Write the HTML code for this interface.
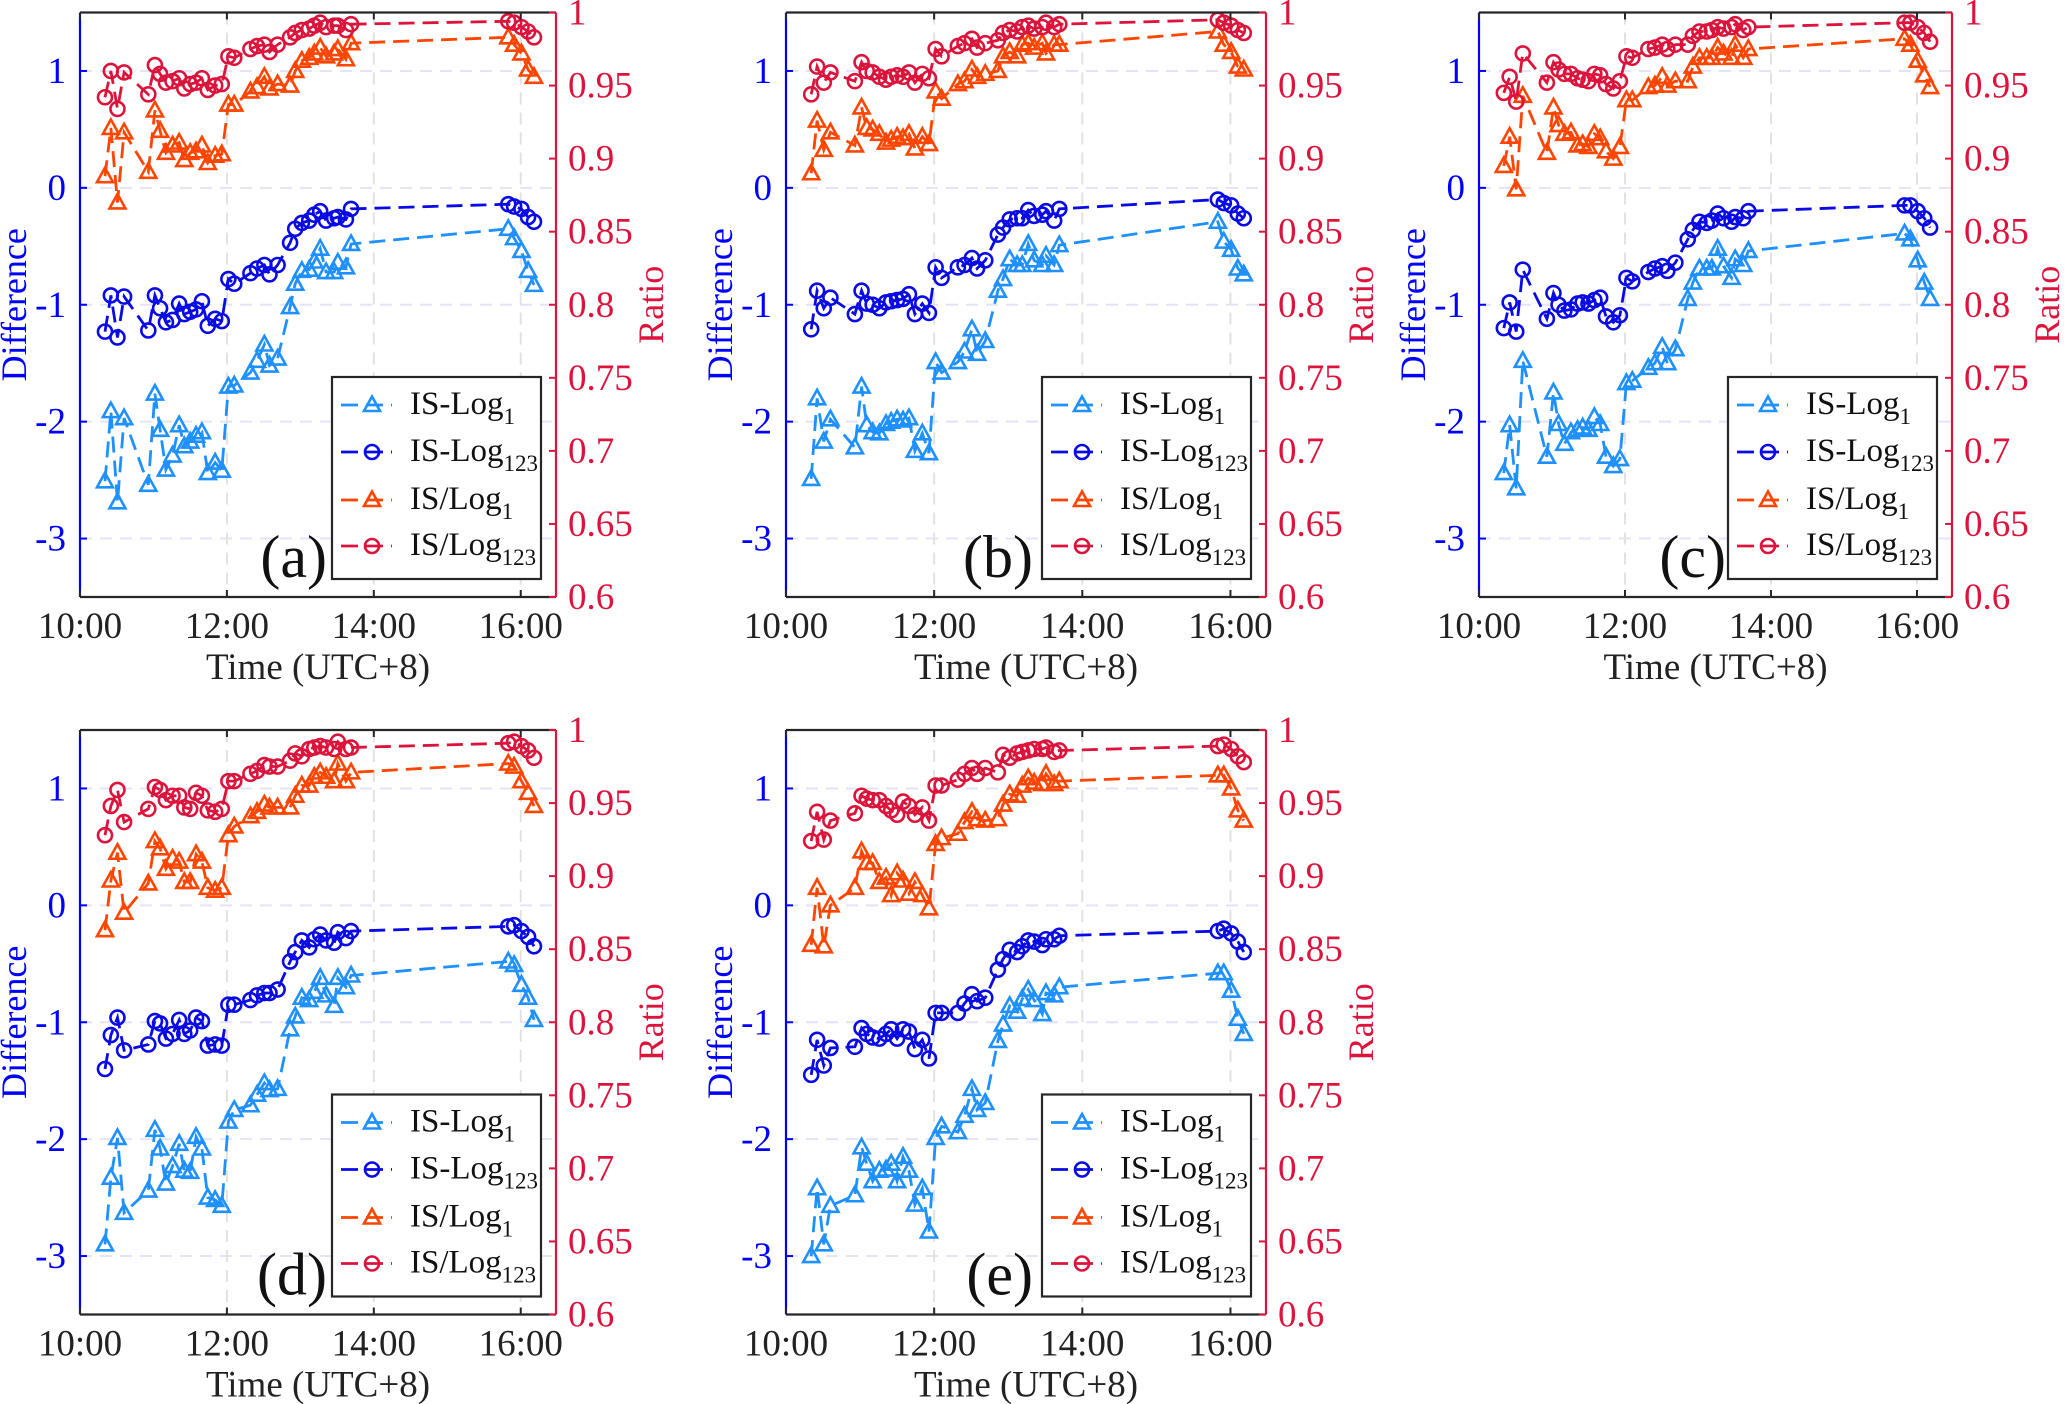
<!DOCTYPE html>
<html><head><meta charset="utf-8"><style>
html,body{margin:0;padding:0;background:#fff;}
svg{display:block;font-family:"Liberation Serif",serif;}
</style></head><body>
<svg id="fig" width="2067" height="1404" viewBox="0 0 2067 1404"></svg>
<script>
const times = [10.34,10.42,10.51,10.60,10.93,11.02,11.09,11.17,11.26,11.35,11.42,11.50,11.58,11.66,11.74,11.84,11.93,12.02,12.10,12.32,12.41,12.51,12.58,12.69,12.86,12.93,13.02,13.12,13.19,13.27,13.35,13.46,13.51,13.62,13.69,15.83,15.91,16.01,16.10,16.18];
const xTickLabels = ["10:00","12:00","14:00","16:00"];
const xTickValues = [10,12,14,16];
const leftTicks = [-3,-2,-1,0,1];
const rightTicks = [0.6,0.65,0.7,0.75,0.8,0.85,0.9,0.95,1];
const rightTickLabels = ["0.6","0.65","0.7","0.75","0.8","0.85","0.9","0.95","1"];

const isLog1A = [-2.51,-1.91,-2.69,-1.97,-2.54,-1.76,-2.07,-2.41,-2.29,-2.03,-2.21,-2.17,-2.12,-2.09,-2.44,-2.35,-2.42,-1.70,-1.69,-1.58,-1.48,-1.34,-1.52,-1.46,-1.02,-0.82,-0.71,-0.70,-0.63,-0.52,-0.72,-0.72,-0.64,-0.68,-0.48,-0.35,-0.43,-0.54,-0.71,-0.83];
const isLog123A = [-1.23,-0.92,-1.28,-0.93,-1.22,-0.92,-1.03,-1.15,-1.13,-0.99,-1.08,-1.06,-1.04,-0.97,-1.18,-1.12,-1.14,-0.78,-0.82,-0.73,-0.69,-0.66,-0.74,-0.66,-0.47,-0.35,-0.30,-0.28,-0.23,-0.20,-0.28,-0.26,-0.25,-0.27,-0.18,-0.14,-0.16,-0.18,-0.25,-0.29];
const ratio1A = [0.888,0.921,0.870,0.918,0.891,0.933,0.919,0.904,0.909,0.911,0.899,0.904,0.905,0.909,0.897,0.902,0.903,0.937,0.937,0.946,0.949,0.956,0.948,0.951,0.950,0.960,0.967,0.969,0.972,0.976,0.970,0.972,0.975,0.968,0.979,0.983,0.978,0.972,0.961,0.956];
const ratio123A = [0.942,0.960,0.934,0.959,0.944,0.964,0.958,0.952,0.953,0.955,0.948,0.951,0.952,0.955,0.947,0.950,0.951,0.970,0.969,0.975,0.977,0.978,0.973,0.978,0.983,0.986,0.988,0.989,0.991,0.993,0.990,0.991,0.991,0.988,0.992,0.994,0.993,0.990,0.987,0.983];

const isLog1B = [-2.49,-1.80,-2.17,-1.98,-2.22,-1.70,-2.03,-2.09,-2.10,-2.02,-2.00,-1.98,-1.99,-1.97,-2.25,-2.10,-2.27,-1.49,-1.58,-1.49,-1.40,-1.21,-1.42,-1.31,-0.88,-0.78,-0.61,-0.66,-0.66,-0.48,-0.62,-0.66,-0.58,-0.66,-0.49,-0.29,-0.46,-0.53,-0.69,-0.74];
const isLog123B = [-1.21,-0.88,-1.03,-0.94,-1.08,-0.88,-0.99,-1.00,-1.03,-0.98,-0.97,-0.96,-0.95,-0.91,-1.08,-0.99,-1.07,-0.68,-0.77,-0.68,-0.66,-0.60,-0.69,-0.62,-0.40,-0.34,-0.27,-0.26,-0.26,-0.19,-0.24,-0.23,-0.20,-0.28,-0.18,-0.10,-0.13,-0.15,-0.22,-0.26];
const ratio1B = [0.890,0.926,0.906,0.918,0.909,0.935,0.921,0.920,0.917,0.911,0.913,0.915,0.914,0.917,0.907,0.915,0.910,0.946,0.941,0.951,0.953,0.961,0.956,0.958,0.960,0.970,0.973,0.970,0.978,0.979,0.976,0.979,0.972,0.978,0.978,0.987,0.978,0.973,0.963,0.961];
const ratio123B = [0.944,0.963,0.952,0.959,0.953,0.966,0.960,0.959,0.956,0.954,0.956,0.957,0.956,0.959,0.952,0.958,0.955,0.975,0.970,0.977,0.979,0.982,0.976,0.979,0.981,0.986,0.988,0.987,0.990,0.991,0.989,0.990,0.993,0.990,0.992,0.995,0.993,0.991,0.988,0.986];

const isLog1C = [-2.44,-2.03,-2.57,-1.48,-2.30,-1.75,-2.02,-2.19,-2.09,-2.07,-2.05,-2.07,-1.96,-2.02,-2.30,-2.38,-2.32,-1.67,-1.65,-1.54,-1.50,-1.36,-1.50,-1.38,-0.95,-0.81,-0.69,-0.69,-0.69,-0.52,-0.67,-0.77,-0.61,-0.66,-0.54,-0.39,-0.44,-0.62,-0.81,-0.95];
const isLog123C = [-1.20,-0.98,-1.23,-0.70,-1.12,-0.90,-1.00,-1.05,-1.04,-0.99,-0.98,-0.99,-0.96,-0.94,-1.10,-1.15,-1.09,-0.77,-0.80,-0.72,-0.69,-0.67,-0.71,-0.64,-0.44,-0.36,-0.29,-0.30,-0.28,-0.22,-0.26,-0.29,-0.25,-0.26,-0.20,-0.15,-0.15,-0.20,-0.26,-0.34];
const ratio1C = [0.895,0.915,0.879,0.943,0.904,0.935,0.923,0.917,0.918,0.909,0.910,0.908,0.917,0.914,0.905,0.900,0.908,0.940,0.940,0.949,0.950,0.956,0.950,0.953,0.953,0.963,0.969,0.969,0.969,0.976,0.972,0.969,0.978,0.969,0.975,0.982,0.978,0.967,0.957,0.949];
const ratio123C = [0.945,0.956,0.939,0.972,0.952,0.966,0.961,0.958,0.958,0.955,0.954,0.953,0.958,0.957,0.951,0.948,0.953,0.970,0.969,0.975,0.976,0.978,0.975,0.978,0.978,0.984,0.987,0.987,0.988,0.990,0.989,0.990,0.992,0.988,0.990,0.993,0.993,0.990,0.986,0.980];

const isLog1D = [-2.90,-2.33,-1.99,-2.63,-2.44,-1.92,-2.08,-2.38,-2.23,-2.04,-2.27,-2.28,-1.98,-2.08,-2.50,-2.52,-2.57,-1.85,-1.75,-1.71,-1.62,-1.52,-1.58,-1.57,-1.06,-0.95,-0.79,-0.81,-0.74,-0.62,-0.77,-0.86,-0.62,-0.70,-0.60,-0.48,-0.51,-0.68,-0.79,-0.98];
const isLog123D = [-1.40,-1.11,-0.96,-1.24,-1.19,-0.99,-1.01,-1.14,-1.10,-0.98,-1.10,-1.07,-0.96,-0.99,-1.20,-1.19,-1.20,-0.85,-0.85,-0.81,-0.77,-0.75,-0.75,-0.72,-0.48,-0.40,-0.30,-0.36,-0.29,-0.25,-0.30,-0.32,-0.23,-0.28,-0.22,-0.18,-0.17,-0.22,-0.27,-0.35];
const ratio1D = [0.863,0.897,0.916,0.875,0.895,0.924,0.919,0.905,0.912,0.910,0.896,0.896,0.915,0.910,0.892,0.890,0.892,0.928,0.934,0.941,0.944,0.949,0.947,0.947,0.947,0.955,0.962,0.962,0.968,0.971,0.968,0.965,0.977,0.965,0.971,0.977,0.975,0.965,0.957,0.948];
const ratio123D = [0.928,0.948,0.959,0.937,0.946,0.961,0.959,0.952,0.955,0.955,0.947,0.946,0.957,0.955,0.945,0.944,0.946,0.965,0.965,0.970,0.972,0.976,0.975,0.975,0.979,0.984,0.982,0.987,0.988,0.989,0.988,0.987,0.992,0.987,0.988,0.991,0.992,0.989,0.986,0.981];

const isLog1E = [-3.00,-2.42,-2.90,-2.57,-2.48,-2.07,-2.21,-2.36,-2.27,-2.26,-2.21,-2.36,-2.15,-2.27,-2.56,-2.42,-2.79,-1.99,-1.89,-1.94,-1.80,-1.57,-1.75,-1.69,-1.16,-1.02,-0.86,-0.91,-0.80,-0.72,-0.81,-0.93,-0.75,-0.77,-0.70,-0.58,-0.58,-0.73,-0.97,-1.10];
const isLog123E = [-1.45,-1.15,-1.37,-1.22,-1.21,-1.05,-1.10,-1.13,-1.14,-1.10,-1.06,-1.14,-1.06,-1.08,-1.23,-1.15,-1.31,-0.92,-0.92,-0.92,-0.84,-0.76,-0.82,-0.79,-0.55,-0.46,-0.38,-0.40,-0.35,-0.30,-0.31,-0.34,-0.29,-0.29,-0.26,-0.22,-0.20,-0.24,-0.31,-0.40];
const ratio1E = [0.853,0.892,0.852,0.880,0.892,0.917,0.909,0.909,0.896,0.899,0.887,0.902,0.897,0.888,0.896,0.887,0.878,0.922,0.926,0.929,0.937,0.944,0.939,0.938,0.939,0.949,0.956,0.955,0.962,0.967,0.964,0.963,0.970,0.963,0.965,0.969,0.969,0.960,0.945,0.938];
const ratio123E = [0.924,0.944,0.925,0.938,0.943,0.955,0.953,0.952,0.952,0.948,0.945,0.942,0.951,0.948,0.942,0.947,0.938,0.962,0.962,0.966,0.970,0.974,0.970,0.974,0.971,0.983,0.981,0.984,0.985,0.986,0.987,0.987,0.988,0.985,0.986,0.989,0.990,0.987,0.982,0.978];

const panelLabels = ["(a)","(b)","(c)","(d)","(e)"];
const panelSeries = [
  [isLog1A,isLog123A,ratio1A,ratio123A],
  [isLog1B,isLog123B,ratio1B,ratio123B],
  [isLog1C,isLog123C,ratio1C,ratio123C],
  [isLog1D,isLog123D,ratio1D,ratio123D],
  [isLog1E,isLog123E,ratio1E,ratio123E]
];
const seriesNames = ["IS-Log","IS-Log","IS/Log","IS/Log"];
const seriesSubs = ["1","123","1","123"];

const NS = "http://www.w3.org/2000/svg";
const fig = document.getElementById("fig");
const boxes = [[80,12.5,476],[786,12.5,480],[1479,12.5,473],[80,730,476],[786,730,480]];
const H = 584.5;
const colors = ["#1E90FF","#0A0AE6","#FF4500","#DC143C"];
const markers = ["tri","circ","tri","circ"];
const BLUE = "#0000FF", RED = "#DC143C";

function mk(parent, tag, attrs) {
  const e = document.createElementNS(NS, tag);
  for (const k in attrs) e.setAttribute(k, attrs[k]);
  parent.appendChild(e);
  return e;
}
function markerEl(g, type, x, y, col) {
  let e;
  if (type === "tri") {
    e = mk(g, "polygon", {points: `${x},${y-8.5} ${x-8},${y+6} ${x+8},${y+6}`, fill: "none", stroke: col, "stroke-width": 2.6});
  } else {
    e = mk(g, "circle", {cx: x, cy: y, r: 7, fill: "none", stroke: col, "stroke-width": 2.6});
  }
  return e;
}

boxes.forEach((b, pi) => {
  const [L, T, W] = b;
  const R = L + W, B = T + H;
  const xs = t => L + (t - 10) / 6.48 * W;
  const yl = v => T + (1.5 - v) / 5 * H;
  const yr = v => T + (1 - v) / 0.4 * H;

  const g = mk(fig, "g", {});
  
  

  const grid = mk(g, "g", {});
  
  
  leftTicks.forEach(v => {
    const gl = mk(grid, "line", {x1: L, x2: R, y1: yl(v), y2: yl(v), stroke: "#E4E4F6", "stroke-width": 2, "stroke-dasharray": "12,8"});
    
    
  });
  xTickValues.slice(1).forEach(v => {
    const gl = mk(grid, "line", {x1: xs(v), x2: xs(v), y1: T, y2: B, stroke: "#E2E2E2", "stroke-width": 2, "stroke-dasharray": "12,8"});
    
    
  });

  panelSeries[pi].forEach((arr, si) => {
    const yf = si < 2 ? yl : yr;
    const sg = mk(g, "g", {});
    
    
    const pts = arr.map((v, i) => `${xs(times[i]).toFixed(1)},${yf(v).toFixed(1)}`).join(" ");
    const pl = mk(sg, "polyline", {points: pts, fill: "none", stroke: colors[si], "stroke-width": 2.8, "stroke-dasharray": "16,8"});
    
    
    arr.forEach((v, i) => {
      const m = markerEl(sg, markers[si], xs(times[i]), yf(v), colors[si]);
      
      
    });
  });

  const ax = mk(g, "g", {});
  
  
  mk(ax, "line", {x1: L, x2: R, y1: T, y2: T, stroke: "#262626", "stroke-width": 2.2});
  mk(ax, "line", {x1: L, x2: R, y1: B, y2: B, stroke: "#262626", "stroke-width": 2.2});
  const la = mk(ax, "line", {x1: L, x2: L, y1: T, y2: B, stroke: BLUE, "stroke-width": 2.2});
  
  
  const ra = mk(ax, "line", {x1: R, x2: R, y1: T, y2: B, stroke: RED, "stroke-width": 2.2});
  
  

  xTickValues.forEach((v, i) => {
    const x = xs(v);
    mk(ax, "line", {x1: x, x2: x, y1: B, y2: B - 7, stroke: "#262626", "stroke-width": 2});
    mk(ax, "line", {x1: x, x2: x, y1: T, y2: T + 7, stroke: "#262626", "stroke-width": 2});
    const t = mk(ax, "text", {x: x, y: B + 41, "text-anchor": "middle", "font-size": 37, fill: "#222"});
    t.textContent = xTickLabels[i];
    
    
  });
  leftTicks.forEach(v => {
    mk(ax, "line", {x1: L, x2: L + 7, y1: yl(v), y2: yl(v), stroke: BLUE, "stroke-width": 2});
    const t = mk(ax, "text", {x: L - 14, y: yl(v) + 12, "text-anchor": "end", "font-size": 37, fill: BLUE});
    t.textContent = v;
    
    
  });
  rightTicks.forEach((v, i) => {
    mk(ax, "line", {x1: R, x2: R - 7, y1: yr(v), y2: yr(v), stroke: RED, "stroke-width": 2});
    const t = mk(ax, "text", {x: R + 12, y: yr(v) + 12, "font-size": 37, fill: RED});
    t.textContent = rightTickLabels[i];
    
    
  });
  const xt = mk(ax, "text", {x: (L + R) / 2, y: B + 82, "text-anchor": "middle", "font-size": 37, fill: "#222"});
  xt.textContent = "Time (UTC+8)";
  
  
  const yt = mk(ax, "text", {x: 0, y: 0, "text-anchor": "middle", "font-size": 36, fill: BLUE, transform: `translate(${L - 54},${T + H / 2}) rotate(-90)`});
  yt.textContent = "Difference";
  
  
  const rt = mk(ax, "text", {x: 0, y: 0, "text-anchor": "middle", "font-size": 36, fill: RED, transform: `translate(${R + 107},${T + H / 2}) rotate(-90)`});
  rt.textContent = "Ratio";
  
  

  const pl = mk(g, "text", {x: L + 247, y: B - 20, "text-anchor": "end", "font-size": 60, fill: "#111"});
  pl.textContent = panelLabels[pi];
  
  

  const lg = mk(g, "g", {});
  
  
  const lx = R - 224, ly = T + 364.5;
  mk(lg, "rect", {x: lx, y: ly, width: 209, height: 202, fill: "#fff", stroke: "#262626", "stroke-width": 2.2});
  [28, 75, 123, 169].forEach((dy, si) => {
    const ey = ly + dy;
    const eg = mk(lg, "g", {});
    
    
    mk(eg, "line", {x1: lx + 9, x2: lx + 60, y1: ey, y2: ey, stroke: colors[si], "stroke-width": 2.8, "stroke-dasharray": "17,8"});
    markerEl(eg, markers[si], lx + 40, ey, colors[si]);
    const t = mk(eg, "text", {x: lx + 78, y: ey + 9, "font-size": 33, fill: "#111"});
    t.textContent = seriesNames[si];
    const s = mk(t, "tspan", {dy: 10, "font-size": 23});
    s.textContent = seriesSubs[si];
  });
});
</script>
</body></html>
